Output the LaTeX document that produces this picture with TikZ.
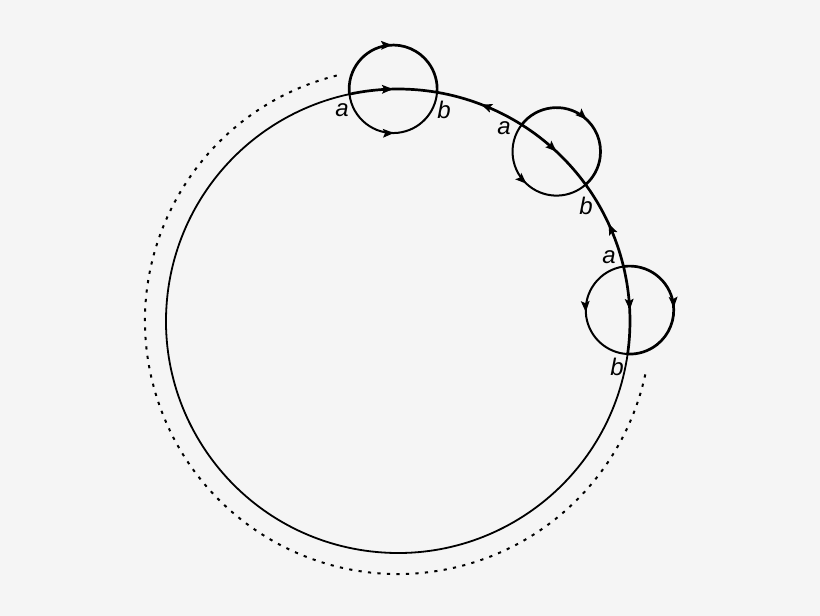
\documentclass[tikz,border=0pt]{standalone}
\usepackage{fontspec}
\setmainfont{Liberation Sans}
\usetikzlibrary{arrows.meta,decorations.markings}
\definecolor{bg}{HTML}{F5F5F5}
\begin{document}
\begin{tikzpicture}[x=1pt,y=1pt,
  lab/.style={font=\fontsize{24}{24}\selectfont\itshape, inner sep=0pt},
  midarrow/.style={postaction={decorate},decoration={markings,mark=at position 0.5 with {\arrow{Stealth[length=11pt,width=8.5pt,inset=2pt]}}}},
  thinline/.style={line width=1.8pt},
  thickline/.style={line width=2.7pt},
  smallline/.style={line width=2pt},
  dotline/.style={line width=2pt,dash pattern=on 3.2pt off 6.3pt}]
\fill[bg] (-398,-295) rectangle (422,321);
\useasboundingbox (-398,-295) rectangle (422,321);
\coordinate (O) at (0,0);
% small circles centred on the big circle
\foreach \n/\t/\ta/\tb/\so/\eo/\ei in {1/91.2/102.08/80.32/186.65/-4.25/355.75,
                                      2/46.9/57.78/36.02/142.35/-48.55/311.45,
                                      3/2.7/13.58/-8.18/98.15/-92.75/267.25}{
  \coordinate (c\n) at (\t:232);
  \coordinate (a\n) at (\ta:232);
  \coordinate (b\n) at (\tb:232);
  \draw[thickline,midarrow] (a\n) arc[start angle=\ta, end angle=\tb, radius=232];
  \draw[thickline,midarrow] (a\n) arc[start angle=\so, end angle=\eo, radius=44];
  \draw[smallline,midarrow] (a\n) arc[start angle=\so, end angle=\ei, radius=44];
}
% big circle pieces between small circles
\draw[thickline,midarrow] (a2) arc[start angle=57.78, end angle=80.32, radius=232];
\draw[thickline,midarrow] (a3) arc[start angle=13.58, end angle=36.02, radius=232];
\draw[thinline] (b3) arc[start angle=-8.18, end angle=-257.92, radius=232];
% dotted outer arc
\coordinate (d1) at (104:253);
\draw[dotline] (d1) arc[start angle=104, end angle=349, radius=253];
% labels
\node[lab] (la1) at (-56,211) {a};
\node[lab] (lb1) at (46,211) {b};
\node[lab] (la2) at (106,193) {a};
\node[lab] (lb2) at (188,115) {b};
\node[lab] (la3) at (211,64) {a};
\node[lab] (lb3) at (219,-46) {b};
\end{tikzpicture}
\end{document}
